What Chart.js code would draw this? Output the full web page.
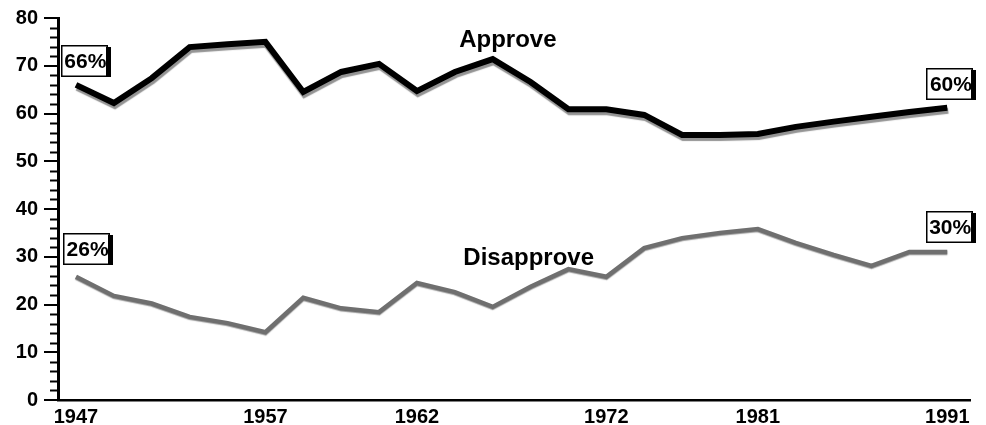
<!DOCTYPE html>
<html>
<head>
<meta charset="utf-8">
<script src="https://cdn.jsdelivr.net/npm/chart.js@4.4.1/dist/chart.umd.min.js"></script>
<style>
  html, body { margin: 0; padding: 0; background: #fff; }
  #wrap { width: 986px; height: 425px; }
</style>
</head>
<body>
<div id="wrap"><canvas id="grafico" width="986" height="425"></canvas></div>
<script>
// poll values, one per survey (evenly spaced along the axis)
var approve = [66, 62.2, 67.4, 73.9, 74.5, 75, 64.5, 68.7, 70.4, 64.7, 68.7, 71.4,
               66.6, 60.9, 60.9, 59.7, 55.5, 55.5, 55.7, 57.2, 58.3, 59.3, 60.3, 61.2];
var disapprove = [25.8, 21.8, 20.2, 17.4, 16.1, 14.2, 21.4, 19.2, 18.4, 24.5, 22.6, 19.5,
                  23.7, 27.4, 25.8, 31.8, 33.9, 35, 35.8, 32.9, 30.4, 28.1, 31, 31];

// which survey gets a year label under the axis
var tickIndex = [0, 5, 9, 14, 18, 23];
var tickLabels = ["1947", "1957", "1962", "1972", "1981", "1991"];

// series names and boxed end values
var seriesNames = ["Approve", "Disapprove"];
var boxTexts = ["66%", "60%", "26%", "30%"];

var FONT = "'Liberation Sans', Arial, Helvetica, sans-serif";

function toPoints(arr) {
    return arr.map(function (v, i) { return { x: i, y: v }; });
}

// shadow under the approve line, minor ticks, labels and boxes
var decorations = {
    id: "decorations",
    beforeDatasetDraw: function (chart, args) {
        var ctx = chart.ctx;
        ctx.save();
        if (args.index === 0) {
            ctx.shadowColor = "rgba(120,120,120,0.8)";
            ctx.shadowOffsetX = 1;
            ctx.shadowOffsetY = 3;
            ctx.shadowBlur = 1;
        } else {
            ctx.shadowColor = "rgba(60,60,60,0.5)";
            ctx.shadowOffsetX = 0;
            ctx.shadowOffsetY = 1;
            ctx.shadowBlur = 1;
        }
    },
    afterDatasetDraw: function (chart) {
        chart.ctx.restore();
    },
    afterDraw: function (chart) {
        var ctx = chart.ctx;
        var xs = chart.scales.x, ys = chart.scales.y;
        var left = chart.chartArea.left;

        // minor ticks every 2
        ctx.save();
        ctx.strokeStyle = "#000";
        ctx.lineWidth = 2;
        for (var v = 2; v < 80; v += 2) {
            if (v % 10 === 0) continue;
            var py = Math.round(ys.getPixelForValue(v)) + 0.5;
            ctx.beginPath();
            ctx.moveTo(left - 8, py);
            ctx.lineTo(left, py);
            ctx.stroke();
        }

        // series names
        ctx.fillStyle = "#000";
        ctx.font = "bold 24px " + FONT;
        ctx.textAlign = "center";
        ctx.textBaseline = "alphabetic";
        ctx.fillText(seriesNames[0], xs.getPixelForValue(11.4), ys.getPixelForValue(73.9));
        ctx.fillText(seriesNames[1], xs.getPixelForValue(11.95), ys.getPixelForValue(28.3));

        // boxed values
        var spots = [[0.22, 71], [23.07, 66.2], [0.28, 31.6], [23.05, 36.2]];
        ctx.font = "bold 21px " + FONT;
        ctx.textBaseline = "middle";
        spots.forEach(function (s, i) {
            var cx = xs.getPixelForValue(s[0]);
            var cy = ys.getPixelForValue(s[1]);
            var w = 47, h = 32;
            var bx = Math.round(cx - w / 2), by = Math.round(cy - h / 2);
            ctx.fillStyle = "#fff";
            ctx.fillRect(bx, by, w, h);
            ctx.strokeStyle = "#000";
            ctx.lineWidth = 1.5;
            ctx.strokeRect(bx + 0.75, by + 0.75, w - 1.5, h - 1.5);
            ctx.fillStyle = "#000";
            ctx.fillRect(bx + w - 2, by + 2, 5, h - 2);
            ctx.fillText(boxTexts[i], cx + 1, cy + 1);
        });
        ctx.restore();
    }
};

var ctx = document.getElementById("grafico").getContext("2d");

var myChart = new Chart(ctx, {
    type: "line",
    data: {
        datasets: [
            {
                label: seriesNames[0],
                data: toPoints(approve),
                borderColor: "#000",
                borderWidth: 6,
                borderCapStyle: "butt",
                borderJoinStyle: "miter",
                pointRadius: 0,
                tension: 0,
                fill: false
            },
            {
                label: seriesNames[1],
                data: toPoints(disapprove),
                borderColor: "#6f6f6f",
                borderWidth: 4.5,
                borderCapStyle: "butt",
                borderJoinStyle: "miter",
                pointRadius: 0,
                tension: 0,
                fill: false
            }
        ]
    },
    options: {
        responsive: false,
        animation: false,
        events: [],
        layout: { padding: { top: 18, right: 16, left: 0, bottom: 0 } },
        plugins: {
            legend: { display: false },
            tooltip: { enabled: false },
            title: { display: false }
        },
        scales: {
            x: {
                type: "linear",
                min: -0.475,
                max: 23.6,
                grid: { display: false, drawTicks: false },
                border: { display: true, color: "#000", width: 2.5 },
                afterBuildTicks: function (scale) {
                    scale.ticks = tickIndex.map(function (v) { return { value: v }; });
                },
                afterFit: function (scale) { scale.height = 25; },
                ticks: {
                    autoSkip: false,
                    maxRotation: 0,
                    padding: 5,
                    color: "#000",
                    font: { family: FONT, weight: "bold", size: 20 },
                    callback: function (value, index) { return tickLabels[index]; }
                }
            },
            y: {
                min: 0,
                max: 80,
                grid: {
                    display: true,
                    drawOnChartArea: false,
                    drawTicks: true,
                    tickLength: 14,
                    lineWidth: 2,
                    color: "#000"
                },
                border: { display: true, color: "#000", width: 3 },
                afterFit: function (scale) { scale.width = 58; },
                ticks: {
                    stepSize: 10,
                    padding: 6,
                    color: "#000",
                    font: { family: FONT, weight: "bold", size: 20 }
                }
            }
        }
    },
    plugins: [decorations]
});
</script>
</body>
</html>
